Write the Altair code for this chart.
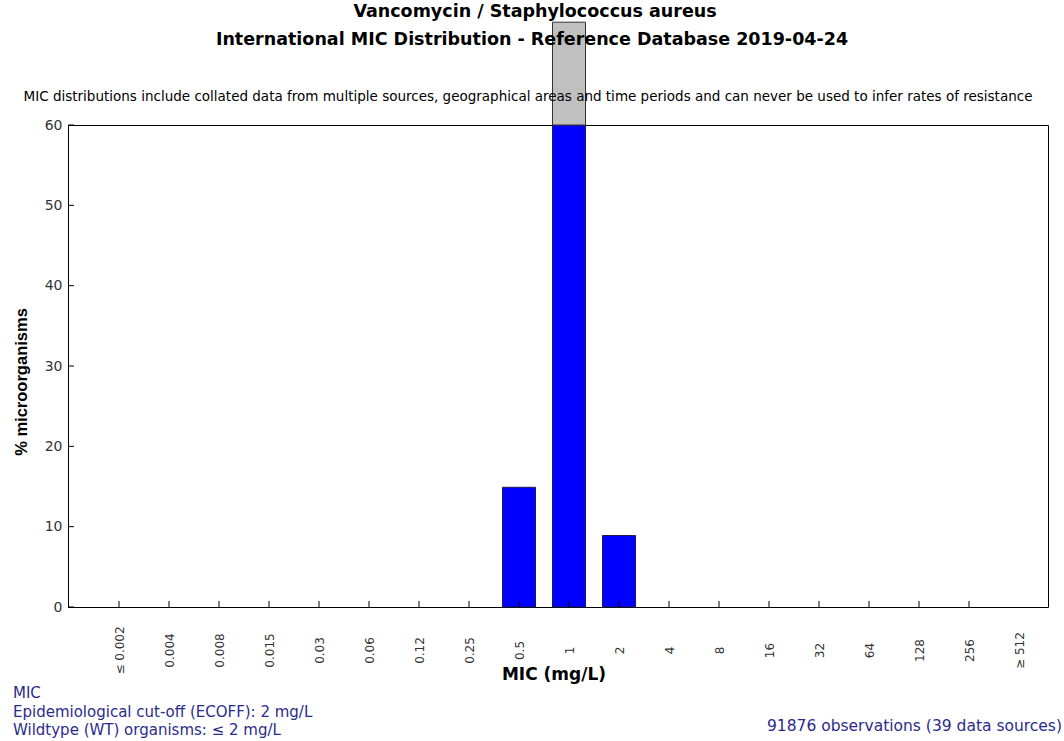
import altair as alt
import pandas as pd

# MIC dilution steps (mg/L) shown on the x axis
mic_labels = ["≤ 0.002", "0.004", "0.008", "0.015", "0.03", "0.06", "0.12", "0.25",
              "0.5", "1", "2", "4", "8", "16", "32", "64", "128", "256", "≥ 512"]
# Percentage of isolates at each MIC
pct_values = [0, 0, 0, 0, 0, 0, 0, 0, 14.9, 72.8, 8.9, 0, 0, 0, 0, 0, 0, 0, 0]
y_max = 60  # the y axis stops here; anything above is drawn in grey past the frame

title_lines = ["Vancomycin / Staphylococcus aureus",
               "International MIC Distribution - Reference Database 2019-04-24"]
disclaimer = ("MIC distributions include collated data from multiple sources, geographical areas "
              "and time periods and can never be used to infer rates of resistance")
footer_left = ["MIC", "Epidemiological cut-off (ECOFF): 2 mg/L", "Wildtype (WT) organisms:  ≤ 2 mg/L"]
footer_right = "91876 observations (39 data sources)"

W, H = 980, 482
FONT = "DejaVu Sans"
VFONT = "Liberation Sans"
NAVY = "#2b2b8c"

df = pd.DataFrame({"idx": list(range(len(mic_labels))), "mic": mic_labels, "pct": pct_values})
df["shown"] = df["pct"].clip(upper=y_max)
df["base"] = y_max

x_scale = alt.Scale(domain=[-1.02, 18.58], nice=False, zero=False, padding=0)
y_scale = alt.Scale(domain=[0, y_max], nice=False, padding=0)

label_array = "[" + ",".join("'" + s + "'" for s in mic_labels) + "]"

x_axis = alt.Axis(values=list(range(len(mic_labels))), labelExpr=label_array + "[datum.value]",
                  labelAngle=270, labelAlign="center", labelBaseline="middle", labelPadding=43,
                  ticks=False, domain=False, grid=False, title=None, labelFont=FONT,
                  labelFontSize=12, labelColor="#333333", labelOverlap=False)
y_axis = alt.Axis(values=[0, 10, 20, 30, 40, 50, 60], ticks=False, domain=False, grid=False,
                  title=None, labelFont=FONT, labelFontSize=14, labelColor="#333333",
                  labelPadding=6)

bars = alt.Chart(df).transform_filter("datum.pct > 0").mark_bar(
    color="#0000FF", stroke="#1c1c50", strokeWidth=1, size=33, clip=False
).encode(
    x=alt.X("idx:Q", scale=x_scale, axis=x_axis),
    y=alt.Y("shown:Q", scale=y_scale, axis=y_axis),
)

overflow = alt.Chart(df).transform_filter(f"datum.pct > {y_max}").mark_bar(
    color="#C0C0C0", stroke="#333333", strokeWidth=1, size=33, clip=False
).encode(
    x=alt.X("idx:Q", scale=x_scale),
    y=alt.Y("base:Q", scale=y_scale),
    y2="pct:Q",
)

# inward-pointing tick marks
x_ticks = alt.Chart(df).transform_filter(f"datum.idx < {len(mic_labels) - 1}").mark_rule(
    color="black", strokeWidth=1
).encode(x=alt.X("idx:Q", scale=x_scale), y=alt.value(H), y2=alt.value(H - 6))

y_tick_df = pd.DataFrame({"v": [0, 10, 20, 30, 40, 50, 60]})
y_ticks = alt.Chart(y_tick_df).mark_rule(color="black", strokeWidth=1).encode(
    y=alt.Y("v:Q", scale=y_scale), x=alt.value(0), x2=alt.value(6)
)


def text_layer(text, x, y, size, bold=False, align="left", color="black", angle=0, font=FONT):
    return alt.Chart(pd.DataFrame({"t": [text]})).mark_text(
        font=font, fontSize=size, fontWeight="bold" if bold else "normal", align=align,
        baseline="middle", color=color, angle=angle
    ).encode(text="t:N", x=alt.value(x), y=alt.value(y))


texts = [
    text_layer(title_lines[0], 467, -113, 17.5, bold=True, align="center"),
    text_layer(title_lines[1], 464, -85, 17.5, bold=True, align="center"),
    text_layer(disclaimer, 460, -28, 13.5, align="center"),
    text_layer("% microorganisms", -46, 257, 16.5, bold=True, align="center", angle=270, font=VFONT),
    text_layer("MIC (mg/L)", 486, 550, 17, bold=True, align="center"),
    text_layer(footer_left[0], -55, 568, 15, color=NAVY),
    text_layer(footer_left[1], -55, 587, 15, color=NAVY),
    text_layer(footer_left[2], -55, 605, 15, color=NAVY),
    text_layer(footer_right, 994, 601, 15.5, align="right", color=NAVY),
]

chart = alt.layer(bars, overflow, x_ticks, y_ticks, *texts).properties(
    width=W, height=H,
    autosize=alt.AutoSizeParams(type="none"),
    padding={"left": 68, "top": 125, "right": 16, "bottom": 134},
    background="white",
).configure_view(stroke="black", strokeWidth=1)

chart.save("out.html", embed_options={"renderer": "svg", "actions": False})
